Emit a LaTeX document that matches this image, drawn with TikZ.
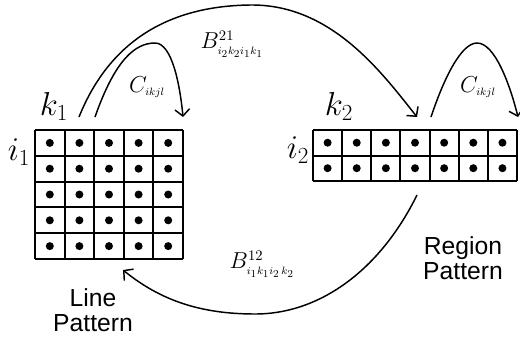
\documentclass[tikz,border=0pt]{standalone}
\usepackage{fontspec}
\newfontfamily\capfont{Liberation Sans}
\usetikzlibrary{arrows.meta}
\tikzset{
  gridline/.style={line width=1.5pt},
  flow/.style={line width=1.1pt, -{Straight Barb[length=5pt,width=11pt]}},
  idx/.style={font=\fontsize{23}{26}\selectfont},
  coef/.style={font=\fontsize{16}{18}\selectfont},
  caption/.style={font=\capfont\fontsize{18.5}{18.5}\selectfont, align=center}
}
\begin{document}
\begin{tikzpicture}[x=0.75pt, y=-0.75pt]
\useasboundingbox (0,0) rectangle (520,337);

% line pattern grid, 5 x 5
\foreach \c in {0,...,5} \draw[gridline] (35+29.6*\c,130) -- (35+29.6*\c,259);
\foreach \r in {0,...,5} \draw[gridline] (35,130+25.8*\r) -- (183,130+25.8*\r);
\foreach \c in {0,...,4} \foreach \r in {0,...,4} \fill (49.8+29.6*\c,142.9+25.8*\r) circle[radius=4];

% region pattern grid, 7 x 2
\foreach \c in {0,...,7} \draw[gridline] (313+29.14*\c,130) -- (313+29.14*\c,181);
\foreach \r in {0,...,2} \draw[gridline] (313,130+25.5*\r) -- (517,130+25.5*\r);
\foreach \c in {0,...,6} \foreach \r in {0,...,1} \fill (327.6+29.14*\c,142.7+25.5*\r) circle[radius=4];

\node[idx] (k1) at (54,106) {$k_1$};
\node[idx] (i1) at (19,152) {$i_1$};
\node[idx] (k2) at (339,106) {$k_2$};
\node[idx] (i2) at (298,150) {$i_2$};

\node[coef] (cleft) at (147,87) {$C_{\scriptscriptstyle ikjl}$};
\node[coef] (cright) at (478,87) {$C_{\scriptscriptstyle ikjl}$};
\node[coef] (b21) at (232,44) {$B^{21}_{\scriptscriptstyle i_2k_2i_1k_1}$};
\node[coef] (b12) at (262,264) {$B^{12}_{\scriptscriptstyle i_1k_1i_2\,k_2}$};

\node[caption] (line) at (93,310) {Line\\Pattern};
\node[caption] (region) at (463,258) {Region\\Pattern};

\coordinate (bout) at (79,117);
\coordinate (bin) at (417,117);
\coordinate (cout1) at (95,117);
\coordinate (cin1) at (183,117);
\coordinate (cout2) at (431,117);
\coordinate (cin2) at (518,117);
\coordinate (back) at (417,195);
\coordinate (backin) at (123,270);

\draw[flow] (bout) .. controls (110,40) and (170,6) .. (250,5) .. controls (330,4) and (380,70) .. (bin);
\draw[flow] (cout1) .. controls (115,60) and (135,43) .. (155,43) .. controls (172,43) and (180,85) .. (cin1);
\draw[flow] (cout2) .. controls (445,75) and (462,43) .. (477,43) .. controls (495,43) and (510,85) .. (cin2);
\draw[flow] (back) .. controls (380,270) and (320,314) .. (255,314) .. controls (200,314) and (160,300) .. (backin);
\end{tikzpicture}
\end{document}
